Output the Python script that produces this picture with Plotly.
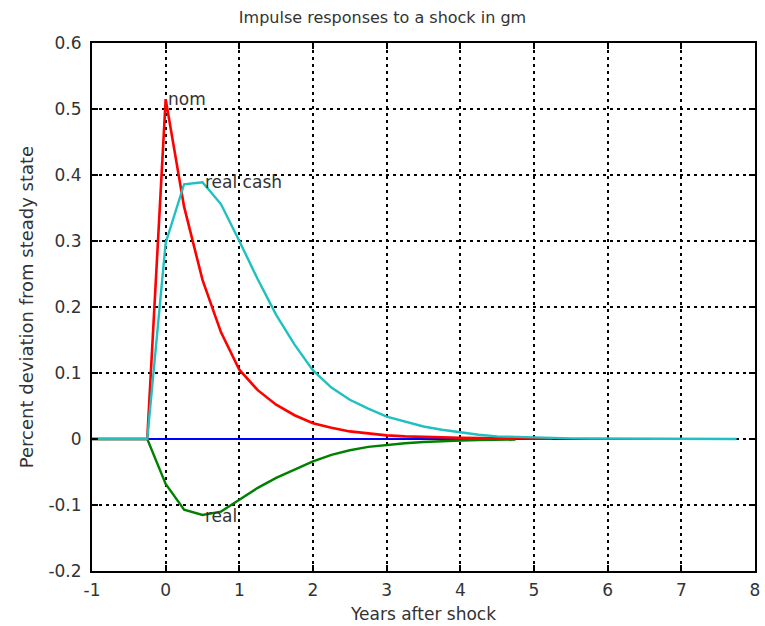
import plotly.graph_objects as go

# Quarterly time axis (years after shock)
years = [-1.0, -0.75, -0.5, -0.25, 0.0, 0.25, 0.5, 0.75, 1.0, 1.25, 1.5, 1.75,
         2.0, 2.25, 2.5, 2.75, 3.0, 3.25, 3.5, 3.75, 4.0, 4.25, 4.5, 4.75,
         5.0, 5.25, 5.5, 5.75, 6.0, 6.25, 6.5, 6.75, 7.0, 7.25, 7.5, 7.75]

# Nominal interest rate response (red), ends at 5.25
nom = [0, 0, 0, 0, 0.515, 0.352, 0.241, 0.162, 0.105, 0.074, 0.052, 0.036,
       0.024, 0.017, 0.0115, 0.008, 0.0055, 0.004, 0.003, 0.0025, 0.002, 0.0016,
       0.0013, 0.001, 0.0008, 0.0006]

# Real cash balances response (cyan)
real_cash = [0, 0, 0, 0, 0.297, 0.386, 0.389, 0.356, 0.300, 0.242, 0.188, 0.143,
             0.104, 0.078, 0.0595, 0.046, 0.034, 0.026, 0.019, 0.014, 0.010, 0.0065,
             0.004, 0.003, 0.002, 0.0015, 0.001, 0.0008, 0.0006, 0.0005, 0.0004,
             0.0003, 0.0002, 0.0002, 0.0001, 0.0001]

# Real interest rate response (green), ends at 4.75
real = [0, 0, 0, 0, -0.068, -0.107, -0.115, -0.110, -0.092, -0.074, -0.059, -0.0465,
        -0.034, -0.024, -0.017, -0.012, -0.0087, -0.0065, -0.0045, -0.003, -0.0022,
        -0.0016, -0.0012, -0.0009]

# Zero reference (blue)
zero = [0] * len(years)

x_ticks = [-1, 0, 1, 2, 3, 4, 5, 6, 7, 8]
x_tick_text = ["-1", "0", "1", "2", "3", "4", "5", "6", "7", "8"]
y_ticks = [-0.2, -0.1, 0, 0.1, 0.2, 0.3, 0.4, 0.5, 0.6]
y_tick_text = ["-0.2", "-0.1", "0", "0.1", "0.2", "0.3", "0.4", "0.5", "0.6"]

labels = [("nom", 0.0, 0.515), ("real cash", 0.5, 0.389), ("real", 0.5, -0.116)]

FONT = "DejaVu Sans"
TXT = "#333333"

fig = go.Figure()
fig.add_trace(go.Scatter(x=years, y=zero, mode="lines",
                         line=dict(color="#0000ff", width=2), name="zero"))
fig.add_trace(go.Scatter(x=years[:len(real)], y=real, mode="lines",
                         line=dict(color="#008000", width=2.4), name="real"))
fig.add_trace(go.Scatter(x=years[:len(nom)], y=nom, mode="lines",
                         line=dict(color="#ff0000", width=2.6), name="nom"))
fig.add_trace(go.Scatter(x=years, y=real_cash, mode="lines",
                         line=dict(color="#1ec0c0", width=2.4), name="real cash"))

for txt, lx, ly in labels:
    fig.add_annotation(x=lx, y=ly, text=txt, showarrow=False, xanchor="left",
                       yanchor="middle",
                       font=dict(family=FONT, size=17, color=TXT))

axis_common = dict(
    showline=True, linewidth=2, linecolor="black", mirror="ticks",
    ticks="inside", ticklen=6, tickwidth=1.5, tickcolor="black",
    showgrid=True, gridcolor="black", gridwidth=1.5, griddash="3px,4px",
    zeroline=False,
    tickfont=dict(family=FONT, size=17, color=TXT),
)

fig.update_layout(
    width=765, height=626,
    margin=dict(l=92, r=5, t=43, b=54),
    paper_bgcolor="white", plot_bgcolor="white",
    showlegend=False,
    title=dict(text="Impulse responses to a shock in gm", x=0.5, xanchor="center",
               xref="container", y=0.972, yanchor="middle",
               font=dict(family=FONT, size=16, color=TXT)),
    xaxis=dict(range=[-1, 8], tickvals=x_ticks, ticktext=x_tick_text,
               ticklabelstandoff=3,
               title=dict(text="Years after shock", standoff=9,
                          font=dict(family=FONT, size=17, color=TXT)),
               **axis_common),
    yaxis=dict(range=[-0.2, 0.6], tickvals=y_ticks, ticktext=y_tick_text,
               ticklabelstandoff=5,
               title=dict(text="Percent deviation from steady state", standoff=10,
                          font=dict(family=FONT, size=18, color=TXT)),
               **axis_common),
)

fig.write_html("out.html", config={"displayModeBar": False},
               post_script="document.body.style.margin='0';")
